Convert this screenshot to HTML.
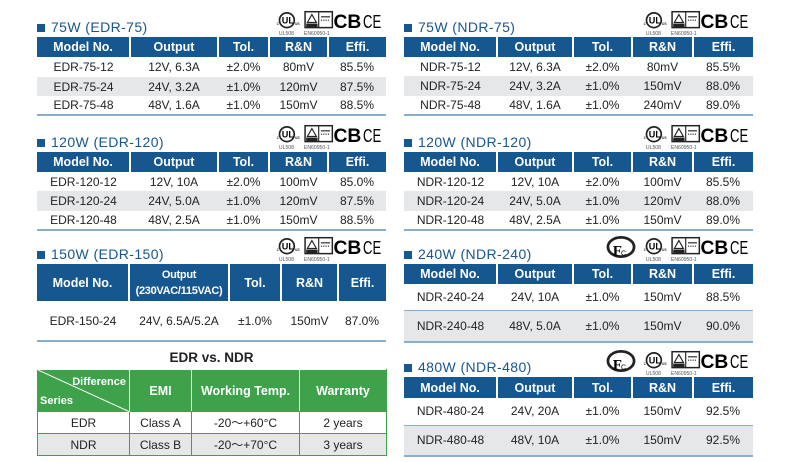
<!DOCTYPE html>
<html><head><meta charset="utf-8">
<style>
*{margin:0;padding:0;box-sizing:border-box}
body{width:787px;height:462px;background:#fff;position:relative;overflow:hidden;font-family:"Liberation Sans","DejaVu Sans",sans-serif;color:#222}
.t{position:absolute;border-collapse:collapse;table-layout:fixed;font-size:12px}
.t td{text-align:center;padding:0;white-space:nowrap;overflow:hidden}
.t tr.h td{background:#17578f;color:#fff;font-weight:bold;font-size:12.5px;border-left:2px solid #fff}
.t tr.h td:first-child{border-left:none}
.t tr.g td{background:#e6e7e9}
.t tr.b td{border-bottom:2px solid #8aaecd}
.t tr.l td{border-bottom:1px solid #8aaecd}
.title{position:absolute;font-size:14px;color:#17578f;letter-spacing:0.4px}
.title:before{content:"";display:inline-block;width:8px;height:8px;background:#17578f;margin-right:6px;vertical-align:0}
.logo{position:absolute}
.gt{position:absolute;border-collapse:collapse;table-layout:fixed;font-size:12px}
.gt td{text-align:center;border:1px solid #3ea24a}
.gt tr.gh td{background:#3ea24a;color:#fff;font-weight:bold;font-size:12.5px;border-color:#fff #fff #3ea24a #fff}
.gt tr.gg td{background:#e6e7e9}
</style></head><body>

<svg width="0" height="0" style="position:absolute"><defs>
<g id="lg">
<text x="0" y="13" font-size="4" font-family="Liberation Sans">c</text>
<circle cx="9" cy="9" r="6.5" fill="none" stroke="#222" stroke-width="1.5"/>
<text x="4.5" y="12" font-size="8" font-weight="bold" font-family="Liberation Sans">UL</text>
<text x="16" y="13" font-size="4" font-family="Liberation Sans">us</text>
<text x="2" y="22" font-size="4.5" fill="#555" font-family="Liberation Sans">UL508</text>
<rect x="25" y="1.5" width="24" height="14" fill="none" stroke="#222" stroke-width="1.3"/>
<line x1="37" y1="1.5" x2="37" y2="15.5" stroke="#222"/>
<path d="M31 4 L35 11 L27 11 Z" fill="none" stroke="#222"/>
<rect x="26" y="12" width="10" height="3" fill="#222"/>
<line x1="39" y1="6" x2="47" y2="6" stroke="#222"/><line x1="39" y1="9" x2="47" y2="9" stroke="#222" stroke-dasharray="1 1"/>
<text x="24" y="22" font-size="4.5" fill="#555" font-family="Liberation Sans">EN60950-1</text>
<text x="50" y="16" font-size="17" font-weight="bold" font-family="Liberation Sans">CB</text>
<text x="76" y="16" font-size="16" font-family="Liberation Sans" textLength="16" lengthAdjust="spacingAndGlyphs">CE</text>
</g>
<g id="fcc">
<ellipse cx="10" cy="8" rx="9.5" ry="7" fill="none" stroke="#222" stroke-width="2"/>
<text x="4" y="14" font-size="11" font-weight="bold" font-family="Liberation Serif">F</text>
<text x="10" y="14" font-size="5" font-family="Liberation Sans">C</text>
</g>
</defs></svg>

<svg class="logo" style="left:273px;top:10px" width="113" height="25" viewBox="0 0 93 22"><use href="#lg"/></svg>
<svg class="logo" style="left:273px;top:124px" width="113" height="25" viewBox="0 0 93 22"><use href="#lg"/></svg>
<svg class="logo" style="left:273px;top:236px" width="113" height="25" viewBox="0 0 93 22"><use href="#lg"/></svg>
<svg class="logo" style="left:640px;top:10px" width="113" height="25" viewBox="0 0 93 22"><use href="#lg"/></svg>
<svg class="logo" style="left:640px;top:124px" width="113" height="25" viewBox="0 0 93 22"><use href="#lg"/></svg>
<svg class="logo" style="left:640px;top:236px" width="113" height="25" viewBox="0 0 93 22"><use href="#lg"/></svg>
<svg class="logo" style="left:640px;top:350px" width="113" height="25" viewBox="0 0 93 22"><use href="#lg"/></svg>
<svg class="logo" style="left:606px;top:236px" width="30" height="22" viewBox="0 0 20 16"><use href="#fcc"/></svg>
<svg class="logo" style="left:606px;top:350px" width="30" height="22" viewBox="0 0 20 16"><use href="#fcc"/></svg>

<div class="title" style="left:37px;top:19px">75W (EDR-75)</div>
<table class="t" style="left:37px;top:37px;width:349px">
<colgroup><col style="width:93px"><col style="width:88px"><col style="width:51px"><col style="width:59px"><col style="width:58px"></colgroup>
<tr class="h" style="height:20px"><td>Model No.</td><td>Output</td><td>Tol.</td><td>R&amp;N</td><td>Effi.</td></tr>
<tr style="height:20px"><td>EDR-75-12</td><td>12V, 6.3A</td><td>±2.0%</td><td>80mV</td><td>85.5%</td></tr>
<tr class="g" style="height:19px"><td>EDR-75-24</td><td>24V, 3.2A</td><td>±1.0%</td><td>120mV</td><td>87.5%</td></tr>
<tr class="b" style="height:19px"><td>EDR-75-48</td><td>48V, 1.6A</td><td>±1.0%</td><td>150mV</td><td>88.5%</td></tr>
</table>

<div class="title" style="left:37px;top:134px">120W (EDR-120)</div>
<table class="t" style="left:37px;top:152px;width:349px">
<colgroup><col style="width:93px"><col style="width:88px"><col style="width:51px"><col style="width:59px"><col style="width:58px"></colgroup>
<tr class="h" style="height:20px"><td>Model No.</td><td>Output</td><td>Tol.</td><td>R&amp;N</td><td>Effi.</td></tr>
<tr style="height:19px"><td>EDR-120-12</td><td>12V, 10A</td><td>±2.0%</td><td>100mV</td><td>85.0%</td></tr>
<tr class="g" style="height:20px"><td>EDR-120-24</td><td>24V, 5.0A</td><td>±1.0%</td><td>120mV</td><td>87.5%</td></tr>
<tr class="b" style="height:19px"><td>EDR-120-48</td><td>48V, 2.5A</td><td>±1.0%</td><td>150mV</td><td>88.5%</td></tr>
</table>

<div class="title" style="left:37px;top:246px">150W (EDR-150)</div>
<table class="t" style="left:37px;top:264px;width:349px">
<colgroup><col style="width:92px"><col style="width:100px"><col style="width:52px"><col style="width:57px"><col style="width:48px"></colgroup>
<tr class="h" style="height:37px"><td>Model No.</td><td style="font-size:11px;line-height:16px;letter-spacing:-0.3px">Output<br>(230VAC/115VAC)</td><td>Tol.</td><td>R&amp;N</td><td>Effi.</td></tr>
<tr class="b" style="height:40px"><td>EDR-150-24</td><td>24V, 6.5A/5.2A</td><td>±1.0%</td><td>150mV</td><td>87.0%</td></tr>
</table>

<div style="position:absolute;left:37px;top:350px;width:349px;text-align:center;font-size:13.5px;font-weight:bold">EDR vs. NDR</div>
<table class="gt" style="left:37px;top:369px;width:349px">
<colgroup><col style="width:92px"><col style="width:62px"><col style="width:108px"><col style="width:87px"></colgroup>
<tr class="gh" style="height:42px"><td style="position:relative;text-align:left;font-size:11px;border-left-color:#3ea24a">
<svg style="position:absolute;left:0;top:0" width="92" height="42"><line x1="0" y1="0" x2="92" y2="42" stroke="#fff" stroke-width="1"/></svg>
<div style="position:absolute;right:3px;top:6px">Difference</div><div style="position:absolute;left:2px;bottom:4px">Series</div></td><td>EMI</td><td>Working Temp.</td><td style="border-right-color:#3ea24a">Warranty</td></tr>
<tr style="height:22px"><td>EDR</td><td>Class A</td><td>-20～+60°C</td><td>2 years</td></tr>
<tr class="gg" style="height:22px"><td>NDR</td><td>Class B</td><td>-20～+70°C</td><td>3 years</td></tr>
</table>

<div class="title" style="left:404px;top:19px">75W (NDR-75)</div>
<table class="t" style="left:404px;top:37px;width:349px">
<colgroup><col style="width:93px"><col style="width:76px"><col style="width:59px"><col style="width:61px"><col style="width:60px"></colgroup>
<tr class="h" style="height:20px"><td>Model No.</td><td>Output</td><td>Tol.</td><td>R&amp;N</td><td>Effi.</td></tr>
<tr style="height:19px"><td>NDR-75-12</td><td>12V, 6.3A</td><td>±2.0%</td><td>80mV</td><td>85.5%</td></tr>
<tr class="g" style="height:20px"><td>NDR-75-24</td><td>24V, 3.2A</td><td>±1.0%</td><td>150mV</td><td>88.0%</td></tr>
<tr class="b" style="height:19px"><td>NDR-75-48</td><td>48V, 1.6A</td><td>±1.0%</td><td>240mV</td><td>89.0%</td></tr>
</table>

<div class="title" style="left:404px;top:134px">120W (NDR-120)</div>
<table class="t" style="left:404px;top:152px;width:349px">
<colgroup><col style="width:93px"><col style="width:76px"><col style="width:59px"><col style="width:61px"><col style="width:60px"></colgroup>
<tr class="h" style="height:20px"><td>Model No.</td><td>Output</td><td>Tol.</td><td>R&amp;N</td><td>Effi.</td></tr>
<tr style="height:19px"><td>NDR-120-12</td><td>12V, 10A</td><td>±2.0%</td><td>100mV</td><td>85.5%</td></tr>
<tr class="g" style="height:20px"><td>NDR-120-24</td><td>24V, 5.0A</td><td>±1.0%</td><td>120mV</td><td>88.0%</td></tr>
<tr class="b" style="height:19px"><td>NDR-120-48</td><td>48V, 2.5A</td><td>±1.0%</td><td>150mV</td><td>89.0%</td></tr>
</table>

<div class="title" style="left:404px;top:246px">240W (NDR-240)</div>
<table class="t" style="left:404px;top:264px;width:349px">
<colgroup><col style="width:93px"><col style="width:76px"><col style="width:59px"><col style="width:61px"><col style="width:60px"></colgroup>
<tr class="h" style="height:20px"><td>Model No.</td><td>Output</td><td>Tol.</td><td>R&amp;N</td><td>Effi.</td></tr>
<tr class="l" style="height:26px"><td>NDR-240-24</td><td>24V, 10A</td><td>±1.0%</td><td>150mV</td><td>88.5%</td></tr>
<tr class="g b" style="height:32px"><td>NDR-240-48</td><td>48V, 5.0A</td><td>±1.0%</td><td>150mV</td><td>90.0%</td></tr>
</table>

<div class="title" style="left:404px;top:359px">480W (NDR-480)</div>
<table class="t" style="left:404px;top:377px;width:349px">
<colgroup><col style="width:93px"><col style="width:76px"><col style="width:59px"><col style="width:61px"><col style="width:60px"></colgroup>
<tr class="h" style="height:21px"><td>Model No.</td><td>Output</td><td>Tol.</td><td>R&amp;N</td><td>Effi.</td></tr>
<tr class="l" style="height:27px"><td>NDR-480-24</td><td>24V, 20A</td><td>±1.0%</td><td>150mV</td><td>92.5%</td></tr>
<tr class="g b" style="height:31px"><td>NDR-480-48</td><td>48V, 10A</td><td>±1.0%</td><td>150mV</td><td>92.5%</td></tr>
</table>

</body></html>
